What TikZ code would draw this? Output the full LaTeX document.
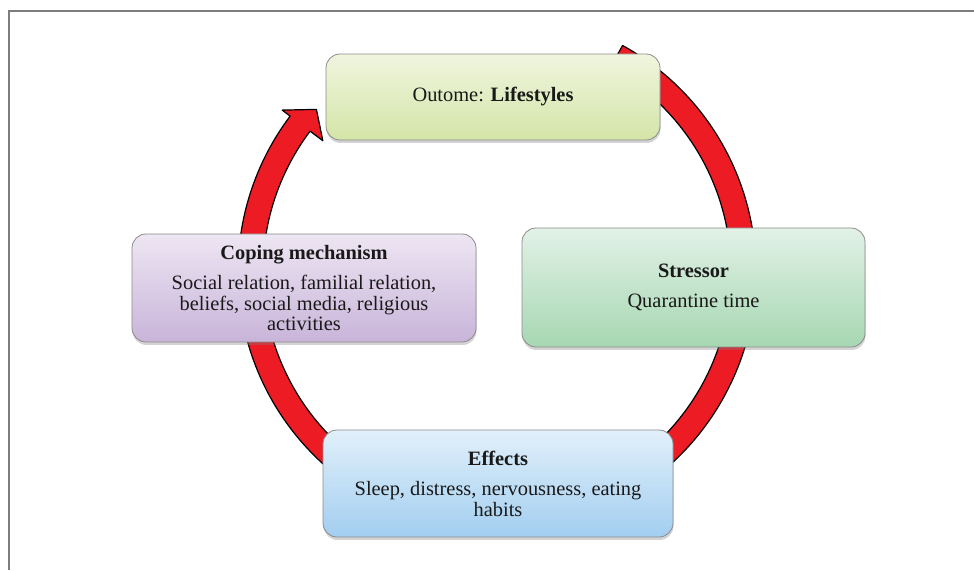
\documentclass[tikz,border=0pt]{standalone}
\usepackage{fontspec}
\setmainfont{Liberation Serif}
\usetikzlibrary{shadows}

\begin{document}
\begin{tikzpicture}[x=1pt,y=1pt]
  \definecolor{ringred}{RGB}{237,28,36}
  \definecolor{framegray}{RGB}{125,125,125}
  \definecolor{lifetop}{RGB}{240,245,222}
  \definecolor{lifebot}{RGB}{212,229,168}
  \definecolor{copetop}{RGB}{238,230,243}
  \definecolor{copebot}{RGB}{200,180,217}
  \definecolor{stresstop}{RGB}{226,241,230}
  \definecolor{stressbot}{RGB}{166,215,178}
  \definecolor{efftop}{RGB}{225,240,250}
  \definecolor{effbot}{RGB}{162,206,240}
  \tikzset{
    box/.style={draw=black!45, line width=0.8pt, rounded corners=14pt,
      inner sep=0pt, align=center, text=black!90,
      font=\fontsize{20.4}{20.5}\selectfont,
      drop shadow={shadow xshift=0.5pt, shadow yshift=-3pt, opacity=0.35}},
  }
  \useasboundingbox (0,0) rectangle (974,570);
  % frame
  \draw[framegray, line width=2pt] (9,0) -- (9,559) -- (974,559);
  % cycle arrow
  \begin{scope}[shift={(497,298)}]
    \coordinate (c) at (0,0);
    \filldraw[fill=ringred, draw=black, line width=1.2pt, line join=round]
      (61:259) arc[start angle=61, end angle=-217, radius=259]
      -- (-217:269) -- (-222:243) -- (-217:218) -- (-217:234)
      arc[start angle=-217, end angle=61, radius=234] -- cycle;
  \end{scope}
  % boxes
  \node[box, top color=lifetop, bottom color=lifebot,
    minimum width=334, minimum height=86] (life) at (493,473)
    {Outome: \textbf{Lifestyles}};
  \node[box, top color=stresstop, bottom color=stressbot,
    minimum width=343, minimum height=119] (stress) at (693.5,282.5)
    {\textbf{Stressor}\\[9pt] Quarantine time};
  \node[box, top color=efftop, bottom color=effbot,
    minimum width=350, minimum height=107] (effect) at (498,86.5)
    {\textbf{Effects}\\[10pt] Sleep, distress, nervousness, eating\\ habits};
  \node[box, top color=copetop, bottom color=copebot,
    minimum width=344, minimum height=108] (cope) at (304,282)
    {\textbf{Coping mechanism}\\[10pt] Social relation, familial relation,\\
     beliefs, social media, religious\\ activities};
\end{tikzpicture}
\end{document}
